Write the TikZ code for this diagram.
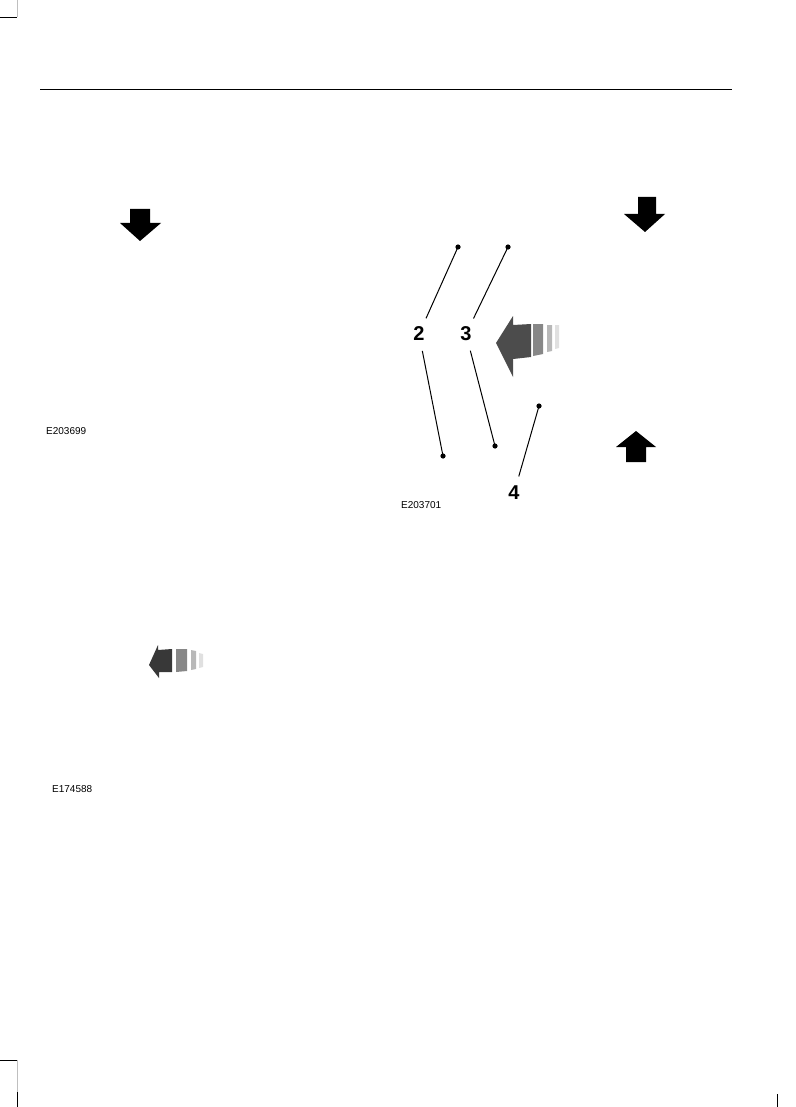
\documentclass[tikz,border=0pt]{standalone}
\usepackage{fontspec}
\setmainfont{Liberation Sans}
\begin{document}
\begin{tikzpicture}[x=1pt,y=-1pt,
  callout/.style={circle,minimum size=34pt,inner sep=0pt,font=\bfseries\fontsize{20}{20}\selectfont},
  code/.style={anchor=west,inner sep=0pt,font=\fontsize{10}{10}\selectfont},
  leader/.style={line width=1pt,black},
  dotc/.style={fill=black},
  crop/.style={line width=0.8pt,black},
  cropgrey/.style={line width=0.8pt,black!25}]
\useasboundingbox (0,0) rectangle (795,1107);
% header rule
\draw[line width=0.9pt] (40,89) -- (732,89);
% crop marks
\draw[cropgrey] (17,0) -- (17,17);
\draw[crop] (0,17) -- (17,17);
\draw[crop] (0,1060) -- (17,1060);
\draw[cropgrey] (17,1060) -- (17,1092);
\draw[crop] (17,1092) -- (17,1107);
\draw[crop] (777,1094) -- (777,1107);
% black down arrows
\fill (130,209) -- (150,209) -- (150,223) -- (161,223) -- (140,241) -- (120,223) -- (130,223) -- cycle;
\fill (638,197) -- (656,197) -- (656,214) -- (665,214) -- (645,232) -- (624,214) -- (638,214) -- cycle;
% black up arrow
\fill (636,431) -- (656,447) -- (646,447) -- (646,462) -- (626,462) -- (626,447) -- (616,447) -- cycle;
% large grey motion arrow
\fill[black!70] (496,343) -- (513,316) -- (513,325) -- (531,324) -- (531,357) -- (513,359) -- (513,377) -- cycle;
\fill[black!47] (533,324) -- (543,324) -- (543,354) -- (533,356) -- cycle;
\fill[black!28] (547,325) -- (552,325) -- (552,351) -- (547,352) -- cycle;
\fill[black!12] (555,325) -- (559,325) -- (559,348) -- (555,349) -- cycle;
% small motion arrow
\fill[black!78] (149,665) -- (158,645) -- (158,650) -- (172,649) -- (172,672) -- (159,672) -- (159,678) -- cycle;
\fill[black!47] (176,649) -- (187,649) -- (187,671) -- (176,672) -- cycle;
\fill[black!28] (191,650) -- (196,651) -- (196,669) -- (191,670) -- cycle;
\fill[black!12] (199,653) -- (203,654) -- (203,667) -- (199,668) -- cycle;
% callouts
\node[callout] (l2) at (419,334) {2};
\node[callout] (l3) at (466,334) {3};
\node[callout] (l4) at (514,493) {4};
\coordinate (d2a) at (458,247);
\coordinate (d2b) at (443,456);
\coordinate (d3a) at (508,247);
\coordinate (d3b) at (495,446);
\coordinate (d4) at (539,406);
\foreach \d in {d2a,d2b,d3a,d3b,d4} \fill[dotc] (\d) circle (2.6);
\draw[leader] (d2a) -- (l2);
\draw[leader] (d2b) -- (l2);
\draw[leader] (d3a) -- (l3);
\draw[leader] (d3b) -- (l3);
\draw[leader] (d4) -- (l4);
% figure codes
\node[code] (c1) at (46,431) {E203699};
\node[code] (c2) at (401,505) {E203701};
\node[code] (c3) at (52,789) {E174588};
\end{tikzpicture}
\end{document}
